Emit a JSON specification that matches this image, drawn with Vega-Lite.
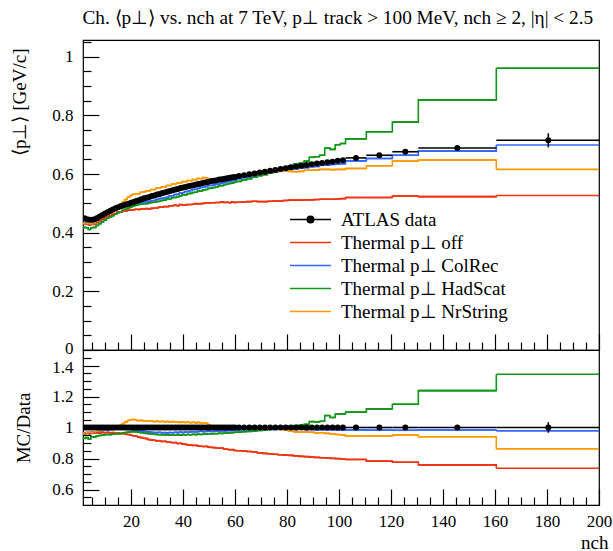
{
"$schema": "https://vega.github.io/schema/vega-lite/v6.json",
"padding": {"left": 9, "top": 9, "right": 2, "bottom": 2},
"background": "white",
"title": {"text": "Ch. ⟨p⊥⟩ vs. nch at 7 TeV, p⊥ track > 100 MeV, nch ≥ 2, |η| < 2.5", "font": "Liberation Serif", "fontSize": 19.3, "fontWeight": "normal", "color": "black", "anchor": "start", "frame": "bounds", "offset": 11, "dx": 73},
"datasets": {
"top": [
{"lo":1.5,"hi":2.5,"x":2,"d":0.449,"e":0.002,"off":0.430,"col":0.433,"had":0.418,"nr":0.432},
{"lo":2.5,"hi":3.5,"x":3,"d":0.446,"e":0.002,"off":0.429,"col":0.432,"had":0.417,"nr":0.431},
{"lo":3.5,"hi":4.5,"x":4,"d":0.444,"e":0.002,"off":0.426,"col":0.429,"had":0.411,"nr":0.431},
{"lo":4.5,"hi":5.5,"x":5,"d":0.444,"e":0.002,"off":0.428,"col":0.431,"had":0.417,"nr":0.430},
{"lo":5.5,"hi":6.5,"x":6,"d":0.446,"e":0.002,"off":0.429,"col":0.434,"had":0.418,"nr":0.434},
{"lo":6.5,"hi":7.5,"x":7,"d":0.450,"e":0.002,"off":0.435,"col":0.439,"had":0.425,"nr":0.439},
{"lo":7.5,"hi":8.5,"x":8,"d":0.455,"e":0.002,"off":0.439,"col":0.445,"had":0.431,"nr":0.446},
{"lo":8.5,"hi":9.5,"x":9,"d":0.460,"e":0.002,"off":0.445,"col":0.451,"had":0.437,"nr":0.452},
{"lo":9.5,"hi":10.5,"x":10,"d":0.465,"e":0.002,"off":0.449,"col":0.457,"had":0.443,"nr":0.459},
{"lo":10.5,"hi":11.5,"x":11,"d":0.470,"e":0.002,"off":0.455,"col":0.463,"had":0.449,"nr":0.465},
{"lo":11.5,"hi":12.5,"x":12,"d":0.475,"e":0.002,"off":0.458,"col":0.469,"had":0.453,"nr":0.472},
{"lo":12.5,"hi":13.5,"x":13,"d":0.479,"e":0.002,"off":0.463,"col":0.473,"had":0.458,"nr":0.478},
{"lo":13.5,"hi":14.5,"x":14,"d":0.483,"e":0.002,"off":0.465,"col":0.478,"had":0.463,"nr":0.484},
{"lo":14.5,"hi":15.5,"x":15,"d":0.487,"e":0.002,"off":0.470,"col":0.482,"had":0.468,"nr":0.491},
{"lo":15.5,"hi":16.5,"x":16,"d":0.490,"e":0.002,"off":0.470,"col":0.486,"had":0.471,"nr":0.497},
{"lo":16.5,"hi":17.5,"x":17,"d":0.493,"e":0.002,"off":0.474,"col":0.488,"had":0.476,"nr":0.505},
{"lo":17.5,"hi":18.5,"x":18,"d":0.496,"e":0.002,"off":0.474,"col":0.491,"had":0.480,"nr":0.513},
{"lo":18.5,"hi":19.5,"x":19,"d":0.499,"e":0.002,"off":0.477,"col":0.493,"had":0.484,"nr":0.521},
{"lo":19.5,"hi":20.5,"x":20,"d":0.502,"e":0.002,"off":0.477,"col":0.495,"had":0.488,"nr":0.527},
{"lo":20.5,"hi":21.5,"x":21,"d":0.505,"e":0.002,"off":0.478,"col":0.497,"had":0.491,"nr":0.531},
{"lo":21.5,"hi":22.5,"x":22,"d":0.508,"e":0.002,"off":0.480,"col":0.499,"had":0.494,"nr":0.532},
{"lo":22.5,"hi":23.5,"x":23,"d":0.511,"e":0.002,"off":0.479,"col":0.501,"had":0.496,"nr":0.533},
{"lo":23.5,"hi":24.5,"x":24,"d":0.514,"e":0.002,"off":0.481,"col":0.503,"had":0.497,"nr":0.538},
{"lo":24.5,"hi":25.5,"x":25,"d":0.517,"e":0.002,"off":0.481,"col":0.505,"had":0.499,"nr":0.539},
{"lo":25.5,"hi":26.5,"x":26,"d":0.519,"e":0.002,"off":0.482,"col":0.505,"had":0.499,"nr":0.542},
{"lo":26.5,"hi":27.5,"x":27,"d":0.522,"e":0.002,"off":0.481,"col":0.507,"had":0.501,"nr":0.543},
{"lo":27.5,"hi":28.5,"x":28,"d":0.525,"e":0.002,"off":0.483,"col":0.509,"had":0.503,"nr":0.547},
{"lo":28.5,"hi":29.5,"x":29,"d":0.527,"e":0.002,"off":0.484,"col":0.510,"had":0.504,"nr":0.547},
{"lo":29.5,"hi":30.5,"x":30,"d":0.530,"e":0.002,"off":0.484,"col":0.513,"had":0.506,"nr":0.552},
{"lo":30.5,"hi":31.5,"x":31,"d":0.532,"e":0.002,"off":0.487,"col":0.516,"had":0.507,"nr":0.552},
{"lo":31.5,"hi":32.5,"x":32,"d":0.535,"e":0.002,"off":0.487,"col":0.517,"had":0.510,"nr":0.556},
{"lo":32.5,"hi":33.5,"x":33,"d":0.537,"e":0.002,"off":0.489,"col":0.519,"had":0.511,"nr":0.556},
{"lo":33.5,"hi":34.5,"x":34,"d":0.540,"e":0.002,"off":0.489,"col":0.521,"had":0.515,"nr":0.561},
{"lo":34.5,"hi":35.5,"x":35,"d":0.542,"e":0.002,"off":0.491,"col":0.525,"had":0.515,"nr":0.561},
{"lo":35.5,"hi":36.5,"x":36,"d":0.545,"e":0.002,"off":0.492,"col":0.526,"had":0.519,"nr":0.566},
{"lo":36.5,"hi":37.5,"x":37,"d":0.547,"e":0.002,"off":0.494,"col":0.530,"had":0.520,"nr":0.566},
{"lo":37.5,"hi":38.5,"x":38,"d":0.549,"e":0.002,"off":0.492,"col":0.531,"had":0.523,"nr":0.569},
{"lo":38.5,"hi":39.5,"x":39,"d":0.552,"e":0.002,"off":0.496,"col":0.535,"had":0.525,"nr":0.570},
{"lo":39.5,"hi":40.5,"x":40,"d":0.554,"e":0.002,"off":0.495,"col":0.536,"had":0.529,"nr":0.574},
{"lo":40.5,"hi":41.5,"x":41,"d":0.556,"e":0.002,"off":0.495,"col":0.540,"had":0.529,"nr":0.574},
{"lo":41.5,"hi":42.5,"x":42,"d":0.558,"e":0.002,"off":0.496,"col":0.541,"had":0.533,"nr":0.578},
{"lo":42.5,"hi":43.5,"x":43,"d":0.560,"e":0.002,"off":0.496,"col":0.544,"had":0.534,"nr":0.577},
{"lo":43.5,"hi":44.5,"x":44,"d":0.562,"e":0.002,"off":0.497,"col":0.547,"had":0.537,"nr":0.581},
{"lo":44.5,"hi":45.5,"x":45,"d":0.564,"e":0.002,"off":0.499,"col":0.548,"had":0.538,"nr":0.581},
{"lo":45.5,"hi":46.5,"x":46,"d":0.566,"e":0.002,"off":0.498,"col":0.551,"had":0.542,"nr":0.585},
{"lo":46.5,"hi":47.5,"x":47,"d":0.568,"e":0.002,"off":0.499,"col":0.554,"had":0.542,"nr":0.584},
{"lo":47.5,"hi":48.5,"x":48,"d":0.570,"e":0.002,"off":0.500,"col":0.555,"had":0.546,"nr":0.588},
{"lo":48.5,"hi":49.5,"x":49,"d":0.572,"e":0.002,"off":0.502,"col":0.558,"had":0.547,"nr":0.587},
{"lo":49.5,"hi":50.5,"x":50,"d":0.574,"e":0.002,"off":0.501,"col":0.561,"had":0.551,"nr":0.584},
{"lo":50.5,"hi":51.5,"x":51,"d":0.576,"e":0.002,"off":0.502,"col":0.561,"had":0.552,"nr":0.582},
{"lo":51.5,"hi":52.5,"x":52,"d":0.577,"e":0.002,"off":0.502,"col":0.563,"had":0.554,"nr":0.580},
{"lo":52.5,"hi":53.5,"x":53,"d":0.579,"e":0.002,"off":0.503,"col":0.566,"had":0.556,"nr":0.581},
{"lo":53.5,"hi":54.5,"x":54,"d":0.581,"e":0.002,"off":0.503,"col":0.566,"had":0.560,"nr":0.584},
{"lo":54.5,"hi":55.5,"x":55,"d":0.582,"e":0.002,"off":0.505,"col":0.570,"had":0.560,"nr":0.583},
{"lo":55.5,"hi":56.5,"x":56,"d":0.584,"e":0.002,"off":0.503,"col":0.571,"had":0.564,"nr":0.586},
{"lo":56.5,"hi":57.5,"x":57,"d":0.586,"e":0.002,"off":0.504,"col":0.574,"had":0.565,"nr":0.587},
{"lo":57.5,"hi":58.5,"x":58,"d":0.587,"e":0.002,"off":0.502,"col":0.576,"had":0.568,"nr":0.589},
{"lo":58.5,"hi":59.5,"x":59,"d":0.589,"e":0.002,"off":0.505,"col":0.577,"had":0.569,"nr":0.589},
{"lo":59.5,"hi":60.5,"x":60,"d":0.590,"e":0.002,"off":0.503,"col":0.580,"had":0.572,"nr":0.591},
{"lo":60.5,"hi":62.5,"x":61.5,"d":0.593,"e":0.003,"off":0.504,"col":0.584,"had":0.575,"nr":0.593},
{"lo":62.5,"hi":64.5,"x":63.5,"d":0.596,"e":0.003,"off":0.505,"col":0.588,"had":0.580,"nr":0.595},
{"lo":64.5,"hi":66.5,"x":65.5,"d":0.599,"e":0.003,"off":0.506,"col":0.590,"had":0.584,"nr":0.597},
{"lo":66.5,"hi":68.5,"x":67.5,"d":0.602,"e":0.003,"off":0.507,"col":0.594,"had":0.589,"nr":0.600},
{"lo":68.5,"hi":70.5,"x":69.5,"d":0.605,"e":0.003,"off":0.506,"col":0.598,"had":0.594,"nr":0.601},
{"lo":70.5,"hi":72.5,"x":71.5,"d":0.608,"e":0.003,"off":0.506,"col":0.599,"had":0.598,"nr":0.604},
{"lo":72.5,"hi":74.5,"x":73.5,"d":0.611,"e":0.003,"off":0.507,"col":0.604,"had":0.604,"nr":0.606},
{"lo":74.5,"hi":76.5,"x":75.5,"d":0.614,"e":0.003,"off":0.508,"col":0.607,"had":0.609,"nr":0.608},
{"lo":76.5,"hi":78.5,"x":77.5,"d":0.617,"e":0.003,"off":0.508,"col":0.611,"had":0.615,"nr":0.611},
{"lo":78.5,"hi":80.5,"x":79.5,"d":0.620,"e":0.003,"off":0.510,"col":0.613,"had":0.621,"nr":0.611},
{"lo":80.5,"hi":82.5,"x":81.5,"d":0.623,"e":0.003,"off":0.511,"col":0.617,"had":0.628,"nr":0.609},
{"lo":82.5,"hi":84.5,"x":83.5,"d":0.626,"e":0.003,"off":0.511,"col":0.618,"had":0.634,"nr":0.608},
{"lo":84.5,"hi":86.5,"x":85.5,"d":0.628,"e":0.003,"off":0.511,"col":0.621,"had":0.637,"nr":0.609},
{"lo":86.5,"hi":88.5,"x":87.5,"d":0.631,"e":0.003,"off":0.512,"col":0.622,"had":0.644,"nr":0.613},
{"lo":88.5,"hi":90.5,"x":89.5,"d":0.633,"e":0.003,"off":0.512,"col":0.625,"had":0.657,"nr":0.613},
{"lo":90.5,"hi":92.5,"x":91.5,"d":0.636,"e":0.003,"off":0.513,"col":0.626,"had":0.659,"nr":0.614},
{"lo":92.5,"hi":94.5,"x":93.5,"d":0.638,"e":0.003,"off":0.514,"col":0.630,"had":0.664,"nr":0.616},
{"lo":94.5,"hi":96.5,"x":95.5,"d":0.640,"e":0.003,"off":0.514,"col":0.630,"had":0.689,"nr":0.616},
{"lo":96.5,"hi":98.5,"x":97.5,"d":0.642,"e":0.003,"off":0.514,"col":0.633,"had":0.684,"nr":0.615},
{"lo":98.5,"hi":100.5,"x":99.5,"d":0.645,"e":0.003,"off":0.515,"col":0.634,"had":0.700,"nr":0.616},
{"lo":100.5,"hi":102.5,"x":101.5,"d":0.647,"e":0.003,"off":0.516,"col":0.635,"had":0.704,"nr":0.616},
{"lo":102.5,"hi":110.5,"x":106.5,"d":0.655,"e":0.004,"off":0.520,"col":0.645,"had":0.720,"nr":0.619},
{"lo":110.5,"hi":120.5,"x":115.5,"d":0.664,"e":0.005,"off":0.520,"col":0.653,"had":0.744,"nr":0.628},
{"lo":120.5,"hi":130.5,"x":125.5,"d":0.676,"e":0.006,"off":0.525,"col":0.664,"had":0.777,"nr":0.644},
{"lo":130.5,"hi":160.5,"x":145.5,"d":0.689,"e":0.007,"off":0.523,"col":0.678,"had":0.853,"nr":0.648},
{"lo":160.5,"hi":200.5,"x":180.5,"d":0.715,"e":0.024,"off":0.527,"col":0.699,"had":0.961,"nr":0.616}
],
"ratio": [
{"lo":1.5,"hi":2.5,"x":2,"rl":0.995,"rh":1.005,"off":0.958,"col":0.965,"had":0.930,"nr":0.962},
{"lo":2.5,"hi":3.5,"x":3,"rl":0.995,"rh":1.005,"off":0.962,"col":0.968,"had":0.935,"nr":0.966},
{"lo":3.5,"hi":4.5,"x":4,"rl":0.995,"rh":1.005,"off":0.960,"col":0.966,"had":0.925,"nr":0.970},
{"lo":4.5,"hi":5.5,"x":5,"rl":0.995,"rh":1.005,"off":0.965,"col":0.970,"had":0.940,"nr":0.968},
{"lo":5.5,"hi":6.5,"x":6,"rl":0.995,"rh":1.005,"off":0.963,"col":0.972,"had":0.938,"nr":0.973},
{"lo":6.5,"hi":7.5,"x":7,"rl":0.995,"rh":1.005,"off":0.967,"col":0.975,"had":0.945,"nr":0.976},
{"lo":7.5,"hi":8.5,"x":8,"rl":0.995,"rh":1.005,"off":0.964,"col":0.977,"had":0.948,"nr":0.980},
{"lo":8.5,"hi":9.5,"x":9,"rl":0.995,"rh":1.005,"off":0.968,"col":0.980,"had":0.950,"nr":0.983},
{"lo":9.5,"hi":10.5,"x":10,"rl":0.995,"rh":1.005,"off":0.966,"col":0.983,"had":0.953,"nr":0.987},
{"lo":10.5,"hi":11.5,"x":11,"rl":0.995,"rh":1.005,"off":0.969,"col":0.985,"had":0.955,"nr":0.990},
{"lo":11.5,"hi":12.5,"x":12,"rl":0.995,"rh":1.005,"off":0.965,"col":0.987,"had":0.954,"nr":0.994},
{"lo":12.5,"hi":13.5,"x":13,"rl":0.995,"rh":1.005,"off":0.967,"col":0.988,"had":0.957,"nr":0.998},
{"lo":13.5,"hi":14.5,"x":14,"rl":0.995,"rh":1.005,"off":0.963,"col":0.990,"had":0.958,"nr":1.003},
{"lo":14.5,"hi":15.5,"x":15,"rl":0.995,"rh":1.005,"off":0.965,"col":0.990,"had":0.960,"nr":1.008},
{"lo":15.5,"hi":16.5,"x":16,"rl":0.995,"rh":1.005,"off":0.960,"col":0.991,"had":0.962,"nr":1.015},
{"lo":16.5,"hi":17.5,"x":17,"rl":0.995,"rh":1.005,"off":0.961,"col":0.989,"had":0.965,"nr":1.025},
{"lo":17.5,"hi":18.5,"x":18,"rl":0.995,"rh":1.005,"off":0.956,"col":0.990,"had":0.968,"nr":1.035},
{"lo":18.5,"hi":19.5,"x":19,"rl":0.995,"rh":1.005,"off":0.955,"col":0.988,"had":0.970,"nr":1.045},
{"lo":19.5,"hi":20.5,"x":20,"rl":0.995,"rh":1.005,"off":0.950,"col":0.987,"had":0.972,"nr":1.050},
{"lo":20.5,"hi":21.5,"x":21,"rl":0.995,"rh":1.005,"off":0.947,"col":0.985,"had":0.973,"nr":1.052},
{"lo":21.5,"hi":22.5,"x":22,"rl":0.995,"rh":1.005,"off":0.944,"col":0.983,"had":0.972,"nr":1.048},
{"lo":22.5,"hi":23.5,"x":23,"rl":0.995,"rh":1.005,"off":0.938,"col":0.980,"had":0.970,"nr":1.044},
{"lo":23.5,"hi":24.5,"x":24,"rl":0.995,"rh":1.005,"off":0.935,"col":0.978,"had":0.967,"nr":1.046},
{"lo":24.5,"hi":25.5,"x":25,"rl":0.995,"rh":1.005,"off":0.931,"col":0.976,"had":0.965,"nr":1.042},
{"lo":25.5,"hi":26.5,"x":26,"rl":0.995,"rh":1.005,"off":0.928,"col":0.973,"had":0.962,"nr":1.044},
{"lo":26.5,"hi":27.5,"x":27,"rl":0.995,"rh":1.005,"off":0.922,"col":0.972,"had":0.960,"nr":1.040},
{"lo":27.5,"hi":28.5,"x":28,"rl":0.995,"rh":1.005,"off":0.920,"col":0.969,"had":0.958,"nr":1.042},
{"lo":28.5,"hi":29.5,"x":29,"rl":0.995,"rh":1.005,"off":0.918,"col":0.968,"had":0.956,"nr":1.038},
{"lo":29.5,"hi":30.5,"x":30,"rl":0.995,"rh":1.005,"off":0.914,"col":0.967,"had":0.955,"nr":1.041},
{"lo":30.5,"hi":31.5,"x":31,"rl":0.995,"rh":1.005,"off":0.915,"col":0.969,"had":0.953,"nr":1.037},
{"lo":31.5,"hi":32.5,"x":32,"rl":0.995,"rh":1.005,"off":0.910,"col":0.966,"had":0.954,"nr":1.040},
{"lo":32.5,"hi":33.5,"x":33,"rl":0.995,"rh":1.005,"off":0.911,"col":0.967,"had":0.952,"nr":1.036},
{"lo":33.5,"hi":34.5,"x":34,"rl":0.995,"rh":1.005,"off":0.906,"col":0.965,"had":0.953,"nr":1.039},
{"lo":34.5,"hi":35.5,"x":35,"rl":0.995,"rh":1.005,"off":0.905,"col":0.968,"had":0.951,"nr":1.035},
{"lo":35.5,"hi":36.5,"x":36,"rl":0.995,"rh":1.005,"off":0.902,"col":0.966,"had":0.952,"nr":1.038},
{"lo":36.5,"hi":37.5,"x":37,"rl":0.995,"rh":1.005,"off":0.903,"col":0.969,"had":0.950,"nr":1.034},
{"lo":37.5,"hi":38.5,"x":38,"rl":0.995,"rh":1.005,"off":0.897,"col":0.967,"had":0.953,"nr":1.037},
{"lo":38.5,"hi":39.5,"x":39,"rl":0.995,"rh":1.005,"off":0.898,"col":0.970,"had":0.951,"nr":1.033},
{"lo":39.5,"hi":40.5,"x":40,"rl":0.995,"rh":1.005,"off":0.893,"col":0.968,"had":0.954,"nr":1.036},
{"lo":40.5,"hi":41.5,"x":41,"rl":0.995,"rh":1.005,"off":0.891,"col":0.971,"had":0.952,"nr":1.032},
{"lo":41.5,"hi":42.5,"x":42,"rl":0.995,"rh":1.005,"off":0.888,"col":0.969,"had":0.955,"nr":1.035},
{"lo":42.5,"hi":43.5,"x":43,"rl":0.995,"rh":1.005,"off":0.886,"col":0.972,"had":0.953,"nr":1.031},
{"lo":43.5,"hi":44.5,"x":44,"rl":0.995,"rh":1.005,"off":0.884,"col":0.973,"had":0.956,"nr":1.034},
{"lo":44.5,"hi":45.5,"x":45,"rl":0.995,"rh":1.005,"off":0.885,"col":0.971,"had":0.954,"nr":1.030},
{"lo":45.5,"hi":46.5,"x":46,"rl":0.995,"rh":1.005,"off":0.880,"col":0.974,"had":0.957,"nr":1.033},
{"lo":46.5,"hi":47.5,"x":47,"rl":0.995,"rh":1.005,"off":0.879,"col":0.976,"had":0.955,"nr":1.029},
{"lo":47.5,"hi":48.5,"x":48,"rl":0.995,"rh":1.005,"off":0.877,"col":0.973,"had":0.958,"nr":1.031},
{"lo":48.5,"hi":49.5,"x":49,"rl":0.995,"rh":1.005,"off":0.878,"col":0.975,"had":0.957,"nr":1.027},
{"lo":49.5,"hi":50.5,"x":50,"rl":0.995,"rh":1.005,"off":0.873,"col":0.977,"had":0.960,"nr":1.018},
{"lo":50.5,"hi":51.5,"x":51,"rl":0.995,"rh":1.005,"off":0.872,"col":0.974,"had":0.958,"nr":1.010},
{"lo":51.5,"hi":52.5,"x":52,"rl":0.995,"rh":1.005,"off":0.870,"col":0.976,"had":0.961,"nr":1.006},
{"lo":52.5,"hi":53.5,"x":53,"rl":0.995,"rh":1.005,"off":0.868,"col":0.978,"had":0.960,"nr":1.004},
{"lo":53.5,"hi":54.5,"x":54,"rl":0.995,"rh":1.005,"off":0.866,"col":0.975,"had":0.963,"nr":1.005},
{"lo":54.5,"hi":55.5,"x":55,"rl":0.995,"rh":1.005,"off":0.867,"col":0.979,"had":0.962,"nr":1.002},
{"lo":55.5,"hi":56.5,"x":56,"rl":0.995,"rh":1.005,"off":0.861,"col":0.977,"had":0.965,"nr":1.004},
{"lo":56.5,"hi":57.5,"x":57,"rl":0.995,"rh":1.005,"off":0.860,"col":0.980,"had":0.964,"nr":1.001},
{"lo":57.5,"hi":58.5,"x":58,"rl":0.995,"rh":1.005,"off":0.856,"col":0.982,"had":0.967,"nr":1.003},
{"lo":58.5,"hi":59.5,"x":59,"rl":0.995,"rh":1.005,"off":0.857,"col":0.980,"had":0.966,"nr":1.000},
{"lo":59.5,"hi":60.5,"x":60,"rl":0.995,"rh":1.005,"off":0.852,"col":0.983,"had":0.969,"nr":1.001},
{"lo":60.5,"hi":62.5,"x":61.5,"rl":0.995,"rh":1.005,"off":0.850,"col":0.984,"had":0.970,"nr":1.000},
{"lo":62.5,"hi":64.5,"x":63.5,"rl":0.995,"rh":1.005,"off":0.848,"col":0.986,"had":0.973,"nr":0.999},
{"lo":64.5,"hi":66.5,"x":65.5,"rl":0.995,"rh":1.005,"off":0.845,"col":0.985,"had":0.975,"nr":0.997},
{"lo":66.5,"hi":68.5,"x":67.5,"rl":0.995,"rh":1.005,"off":0.842,"col":0.987,"had":0.978,"nr":0.996},
{"lo":68.5,"hi":70.5,"x":69.5,"rl":0.995,"rh":1.005,"off":0.836,"col":0.988,"had":0.981,"nr":0.994},
{"lo":70.5,"hi":72.5,"x":71.5,"rl":0.995,"rh":1.005,"off":0.833,"col":0.986,"had":0.984,"nr":0.993},
{"lo":72.5,"hi":74.5,"x":73.5,"rl":0.995,"rh":1.005,"off":0.830,"col":0.989,"had":0.988,"nr":0.991},
{"lo":74.5,"hi":76.5,"x":75.5,"rl":0.995,"rh":1.005,"off":0.827,"col":0.988,"had":0.992,"nr":0.990},
{"lo":76.5,"hi":78.5,"x":77.5,"rl":0.995,"rh":1.005,"off":0.824,"col":0.990,"had":0.996,"nr":0.990},
{"lo":78.5,"hi":80.5,"x":79.5,"rl":0.995,"rh":1.005,"off":0.822,"col":0.988,"had":1.002,"nr":0.985},
{"lo":80.5,"hi":82.5,"x":81.5,"rl":0.995,"rh":1.005,"off":0.820,"col":0.990,"had":1.008,"nr":0.978},
{"lo":82.5,"hi":84.5,"x":83.5,"rl":0.995,"rh":1.005,"off":0.817,"col":0.987,"had":1.012,"nr":0.972},
{"lo":84.5,"hi":86.5,"x":85.5,"rl":0.995,"rh":1.005,"off":0.814,"col":0.989,"had":1.015,"nr":0.970},
{"lo":86.5,"hi":88.5,"x":87.5,"rl":0.995,"rh":1.005,"off":0.812,"col":0.986,"had":1.020,"nr":0.971},
{"lo":88.5,"hi":90.5,"x":89.5,"rl":0.995,"rh":1.005,"off":0.809,"col":0.988,"had":1.038,"nr":0.969},
{"lo":90.5,"hi":92.5,"x":91.5,"rl":0.995,"rh":1.005,"off":0.807,"col":0.985,"had":1.036,"nr":0.965},
{"lo":92.5,"hi":94.5,"x":93.5,"rl":0.995,"rh":1.005,"off":0.805,"col":0.987,"had":1.040,"nr":0.966},
{"lo":94.5,"hi":96.5,"x":95.5,"rl":0.995,"rh":1.005,"off":0.803,"col":0.984,"had":1.077,"nr":0.962},
{"lo":96.5,"hi":98.5,"x":97.5,"rl":0.995,"rh":1.005,"off":0.801,"col":0.986,"had":1.065,"nr":0.958},
{"lo":98.5,"hi":100.5,"x":99.5,"rl":0.995,"rh":1.005,"off":0.799,"col":0.983,"had":1.086,"nr":0.955},
{"lo":100.5,"hi":102.5,"x":101.5,"rl":0.995,"rh":1.005,"off":0.797,"col":0.982,"had":1.088,"nr":0.952},
{"lo":102.5,"hi":110.5,"x":106.5,"rl":0.994,"rh":1.006,"off":0.794,"col":0.985,"had":1.099,"nr":0.945},
{"lo":110.5,"hi":120.5,"x":115.5,"rl":0.992,"rh":1.008,"off":0.783,"col":0.983,"had":1.120,"nr":0.946},
{"lo":120.5,"hi":130.5,"x":125.5,"rl":0.991,"rh":1.009,"off":0.776,"col":0.982,"had":1.150,"nr":0.952},
{"lo":130.5,"hi":160.5,"x":145.5,"rl":0.990,"rh":1.010,"off":0.759,"col":0.984,"had":1.238,"nr":0.940},
{"lo":160.5,"hi":200.5,"x":180.5,"rl":0.966,"rh":1.034,"off":0.737,"col":0.978,"had":1.344,"nr":0.862}
]
},
"spacing": 0,
"bounds": "flush",
"resolve": {"scale": {"color": "independent"}},
"vconcat": [
{
"width": 516, "height": 310,
"data": {"name": "top"},
"layer": [
{"transform": [{"fold": ["off","col","had","nr"], "as": ["key","val"]}],
 "mark": {"type": "line", "interpolate": "step-after", "strokeWidth": 1.6, "clip": true},
 "encoding": {
  "x": {"field": "lo", "type": "quantitative", "scale": {"domain": [1.5, 200], "nice": false, "zero": false},
        "axis": {"values": [5,10,15,20,25,30,35,40,45,50,55,60,65,70,75,80,85,90,95,100,105,110,115,120,125,130,135,140,145,150,155,160,165,170,175,180,185,190,195,200],
                 "tickCount": 200, "labels": false, "ticks": true, "domain": false, "grid": false, "title": null, "tickColor": "black", "tickWidth": 1.2,
                 "tickSize": {"condition": {"test": "datum.value % 20 === 0", "value": -16}, "value": -8}}},
  "y": {"field": "val", "type": "quantitative", "title": "⟨p⊥⟩ [GeV/c]", "scale": {"domain": [0, 1.057], "nice": false, "zero": false},
        "axis": {"values": [0,0.05,0.1,0.15,0.2,0.25,0.3,0.35,0.4,0.45,0.5,0.55,0.6,0.65,0.7,0.75,0.8,0.85,0.9,0.95,1,1.05],
                 "tickCount": 200, "format": ".1~f", "labelExpr": "abs(datum.value*5-round(datum.value*5))<0.001 ? datum.label : ''",
                 "labelFontSize": {"condition": {"test": "abs(datum.value*5-round(datum.value*5))<0.001", "value": 17}, "value": 0},
                 "labelOffset": {"condition": {"test": "datum.value === 0", "value": -2}, "value": 0},
                 "labelPadding": 26, "domain": false, "grid": false, "tickColor": "black", "tickWidth": 1.2,
                 "tickSize": {"condition": {"test": "abs(datum.value*5-round(datum.value*5))<0.001", "value": -16}, "value": -8},
                 "title": "⟨p⊥⟩ [GeV/c]", "titleFontSize": 19, "titleX": -58, "titleY": 8, "titleAlign": "right", "titleBaseline": "alphabetic", "titleAngle": -90}},
  "color": {"field": "key", "type": "nominal",
            "scale": {"domain": ["data","off","col","had","nr"], "range": ["black","#EE3311","#3366FF","#109618","#FF9900"]},
            "legend": {"orient": "none", "legendX": 218, "legendY": 170, "direction": "vertical", "title": null, "padding": 0,
                       "symbolSize": 100, "symbolOffset": 0, "labelOffset": 21, "rowPadding": 3, "labelLimit": 400,
                       "labelFont": "Liberation Serif", "labelFontSize": 19, "labelColor": "black",
                       "labelExpr": "{'data':'ATLAS data','off':'Thermal p⊥ off','col':'Thermal p⊥ ColRec','had':'Thermal p⊥ HadScat','nr':'Thermal p⊥ NrString'}[datum.value]",
                       "encode": {"symbols": {"update": {
                          "shape": {"signal": "datum.value === 'data' ? 'M-4.1,0L4.1,0M0.65,0A0.65,0.65,0,1,1,-0.65,0A0.65,0.65,0,1,1,0.65,0Z' : 'M-4.1,0L4.1,0'"},
                          "fill": {"signal": "datum.value === 'data' ? 'black' : 'transparent'"},
                          "stroke": {"signal": "datum.value === 'data' ? 'black' : datum.value === 'off' ? '#EE3311' : datum.value === 'col' ? '#3366FF' : datum.value === 'had' ? '#109618' : '#FF9900'"},
                          "strokeWidth": {"value": 1.6}, "opacity": {"value": 1}, "fillOpacity": {"value": 1}, "strokeOpacity": {"value": 1}}}}}}
 }},
{"transform": [{"fold": ["off","col","had","nr"], "as": ["key","val"]}],
 "mark": {"type": "rule", "strokeWidth": 1.6, "clip": true},
 "encoding": {
  "x": {"field": "lo", "type": "quantitative"}, "x2": {"field": "hi"},
  "y": {"field": "val", "type": "quantitative", "title": "⟨p⊥⟩ [GeV/c]"},
  "color": {"field": "key", "type": "nominal"}}},
{"mark": {"type": "rule", "color": "black", "strokeWidth": 1.6, "clip": true},
 "encoding": {"x": {"field": "lo", "type": "quantitative"}, "x2": {"field": "hi"}, "y": {"field": "d", "type": "quantitative", "title": "⟨p⊥⟩ [GeV/c]"}}},
{"mark": {"type": "errorbar", "color": "black", "thickness": 1.6},
 "encoding": {"x": {"field": "x", "type": "quantitative"}, "y": {"field": "d", "type": "quantitative", "title": "⟨p⊥⟩ [GeV/c]"}, "yError": {"field": "e"}}},
{"mark": {"type": "point", "filled": true, "size": 36, "opacity": 1, "clip": true},
 "encoding": {"x": {"field": "x", "type": "quantitative"}, "y": {"field": "d", "type": "quantitative", "title": "⟨p⊥⟩ [GeV/c]"}, "color": {"datum": "data"}}}
]
},
{
"width": 516, "height": 155,
"data": {"name": "ratio"},
"layer": [
{"transform": [{"fold": ["off","col","had","nr"], "as": ["key","val"]}],
 "mark": {"type": "line", "interpolate": "step-after", "strokeWidth": 1.6, "clip": true},
 "encoding": {
  "x": {"field": "lo", "type": "quantitative", "title": "nch", "scale": {"domain": [1.5, 200], "nice": false, "zero": false},
        "axis": {"values": [5,10,15,20,25,30,35,40,45,50,55,60,65,70,75,80,85,90,95,100,105,110,115,120,125,130,135,140,145,150,155,160,165,170,175,180,185,190,195,200],
                 "tickCount": 200, "format": "d", "labelExpr": "datum.value % 20 === 0 ? datum.label : ''", "labelPadding": 24,
                 "ticks": true, "domain": false, "grid": false, "tickColor": "black", "tickWidth": 1.2,
                 "tickSize": {"condition": {"test": "datum.value % 20 === 0", "value": -16}, "value": -8},
                 "title": "nch", "titleFontSize": 19, "titleX": 525, "titleY": 43, "titleAlign": "right", "titleBaseline": "alphabetic"}},
  "y": {"field": "val", "type": "quantitative", "title": "MC/Data", "scale": {"domain": [0.5, 1.5], "nice": false, "zero": false},
        "axis": {"values": [0.55,0.6,0.65,0.7,0.75,0.8,0.85,0.9,0.95,1,1.05,1.1,1.15,1.2,1.25,1.3,1.35,1.4,1.45],
                 "tickCount": 200, "format": ".1~f", "labelExpr": "abs(datum.value*5-round(datum.value*5))<0.001 ? datum.label : ''",
                 "labelFontSize": {"condition": {"test": "abs(datum.value*5-round(datum.value*5))<0.001", "value": 17}, "value": 0},
                 "labelOffset": {"condition": {"test": "abs(datum.value-1.4)<0.001", "value": 2}, "value": 0},
                 "labelPadding": 26, "domain": false, "grid": false, "tickColor": "black", "tickWidth": 1.2,
                 "tickSize": {"condition": {"test": "abs(datum.value*5-round(datum.value*5))<0.001", "value": -16}, "value": -8},
                 "title": "MC/Data", "titleFontSize": 19, "titleX": -54, "titleY": 77.5, "titleAlign": "center", "titleBaseline": "alphabetic", "titleAngle": -90}},
  "color": {"field": "key", "type": "nominal",
            "scale": {"domain": ["data","off","col","had","nr"], "range": ["black","#EE3311","#3366FF","#109618","#FF9900"]},
            "legend": null}
 }},
{"transform": [{"fold": ["off","col","had","nr"], "as": ["key","val"]}],
 "mark": {"type": "rule", "strokeWidth": 1.6, "clip": true},
 "encoding": {
  "x": {"field": "lo", "type": "quantitative", "title": "nch"}, "x2": {"field": "hi"},
  "y": {"field": "val", "type": "quantitative", "title": "MC/Data"},
  "color": {"field": "key", "type": "nominal", "legend": null}}},
{"mark": {"type": "rule", "color": "black", "strokeWidth": 1.6, "clip": true},
 "encoding": {"x": {"field": "lo", "type": "quantitative", "title": "nch"}, "x2": {"field": "hi"}, "y": {"datum": 1, "title": "MC/Data"}}},
{"mark": {"type": "rule", "color": "black", "strokeWidth": 1.6, "clip": true},
 "encoding": {"x": {"field": "x", "type": "quantitative", "title": "nch"}, "y": {"field": "rl", "type": "quantitative", "title": "MC/Data"}, "y2": {"field": "rh"}}},
{"mark": {"type": "point", "filled": true, "size": 36, "color": "black", "opacity": 1, "clip": true},
 "encoding": {"x": {"field": "x", "type": "quantitative", "title": "nch"}, "y": {"datum": 1, "title": "MC/Data"}}}
]
}
],
"config": {
 "font": "Liberation Serif",
 "view": {"stroke": "black", "strokeWidth": 1.2},
 "axis": {"labelFont": "Liberation Serif", "labelFontSize": 17, "labelColor": "black", "titleFont": "Liberation Serif", "titleFontSize": 17, "titleFontWeight": "normal", "titleColor": "black", "labelFlush": false, "labelOverlap": false}
}
}
